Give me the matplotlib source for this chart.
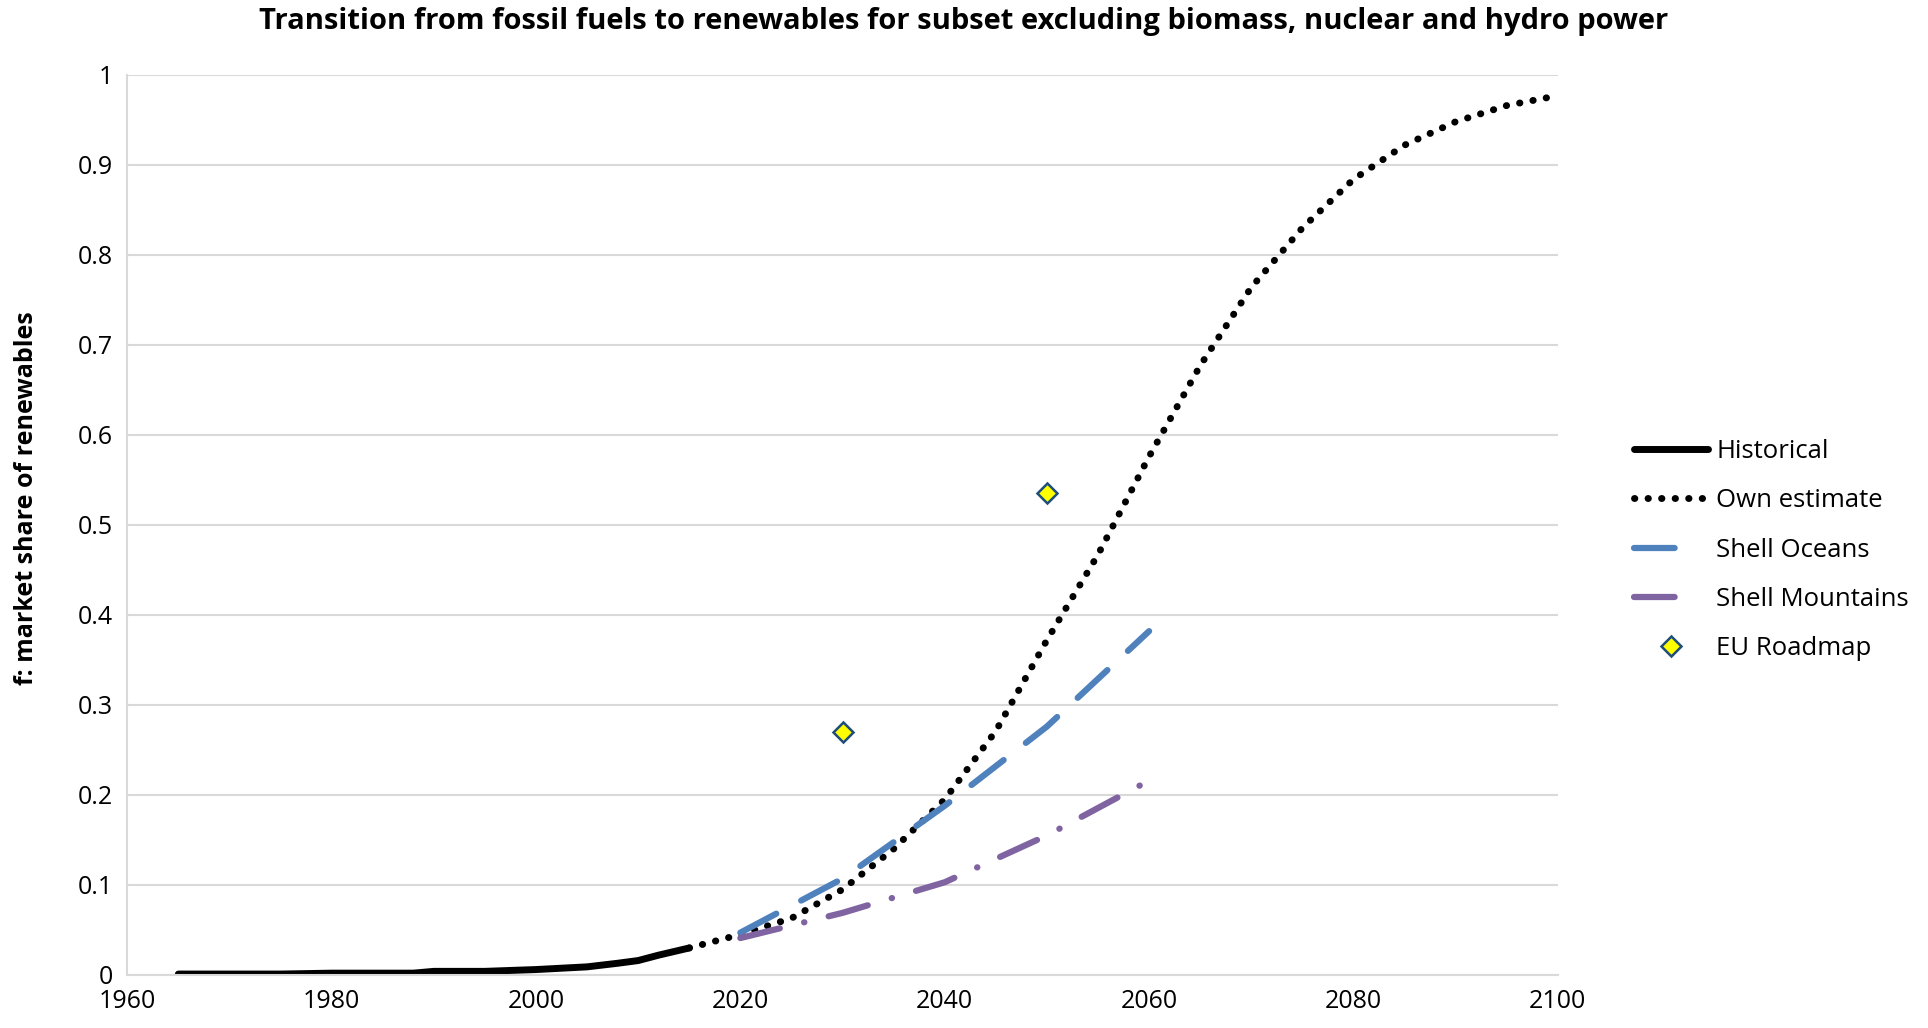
import matplotlib.pyplot as plt
from matplotlib.lines import Line2D

# historical market share (subset excl. biomass, nuclear, hydro)
hist_years = [1965, 1970, 1975, 1980, 1985, 1988, 1990, 1995, 2000, 2005, 2008, 2010, 2012, 2015]
hist_share = [0.001, 0.001, 0.001, 0.002, 0.002, 0.002, 0.004, 0.004, 0.006, 0.009, 0.013, 0.016, 0.022, 0.030]

est_years = [2015, 2020, 2025, 2030, 2035, 2040, 2045, 2050, 2055, 2060, 2065, 2070, 2075, 2080, 2085, 2090, 2095, 2100]
est_share = [0.030, 0.045, 0.063, 0.095, 0.140, 0.195, 0.271, 0.372, 0.467, 0.576, 0.677, 0.764, 0.830, 0.884, 0.922, 0.948, 0.966, 0.977]

shell_years = [2020, 2030, 2040, 2050, 2060]
oceans = [0.047, 0.107, 0.188, 0.276, 0.382]
mountains = [0.041, 0.069, 0.103, 0.155, 0.216]

eu_years = [2030, 2050]
eu_share = [0.27, 0.535]

plt.rcParams['font.family'] = ['Open Sans', 'DejaVu Sans']

fig = plt.figure(figsize=(19.28, 10.28), dpi=100)
ax = fig.add_axes([0.066, 0.0516, 0.742, 0.8755])

ax.plot(hist_years, hist_share, color='black', lw=5, solid_capstyle='round', label='Historical')
ax.plot(est_years, est_share, color='black', lw=5, linestyle=(0, (0.05, 1.9)),
        dash_capstyle='round', label='Own estimate')
ax.plot(shell_years, oceans, color='#4f81bd', lw=4.5, linestyle=(0, (6.5, 4.5)),
        dash_capstyle='round', label='Shell Oceans')
ax.plot(shell_years, mountains, color='#8064a2', lw=4.5, linestyle=(0, (6.5, 4, 0.05, 4)),
        dash_capstyle='round', label='Shell Mountains')
ax.plot(eu_years, eu_share, linestyle='none', marker='D', ms=10, mfc='#ffff00',
        mec='#1f4e79', mew=1.8, label='EU Roadmap')

ax.set_xlim(1960, 2100)
ax.set_ylim(0, 1)
ax.set_xticks(range(1960, 2101, 20))
ax.set_yticks([i / 10 for i in range(11)])
ax.set_yticklabels(['0', '0.1', '0.2', '0.3', '0.4', '0.5', '0.6', '0.7', '0.8', '0.9', '1'])
ax.tick_params(length=0, labelsize=18, pad=10)
ax.grid(axis='y', color='#d9d9d9', lw=1.5)
ax.set_axisbelow(True)
for s in ['top', 'right']:
    ax.spines[s].set_visible(False)
for s in ['left', 'bottom']:
    ax.spines[s].set_color('#d9d9d9')
    ax.spines[s].set_linewidth(1.5)

ax.set_ylabel('f: market share of renewables', fontsize=18, fontweight='bold')
ax.yaxis.set_label_coords(-0.062, 0.53)
fig.suptitle('Transition from fossil fuels to renewables for subset excluding biomass, nuclear and hydro power',
             fontsize=21, fontweight='bold', y=0.993)

# legend: shell series shown as a single short stroke, like the original
handles, labels = ax.get_legend_handles_labels()
handles[2] = Line2D([], [], color='#4f81bd', lw=4.5, linestyle=(0, (6.5, 20)), dash_capstyle='round')
handles[3] = Line2D([], [], color='#8064a2', lw=4.5, linestyle=(0, (6.5, 20)), dash_capstyle='round')
ax.legend(handles, labels, loc='center left', bbox_to_anchor=(1.037, 0.472), frameon=False,
          fontsize=18.5, handlelength=2.9, labelspacing=0.95, handletextpad=0.3)

plt.savefig('out.png', dpi=100)
